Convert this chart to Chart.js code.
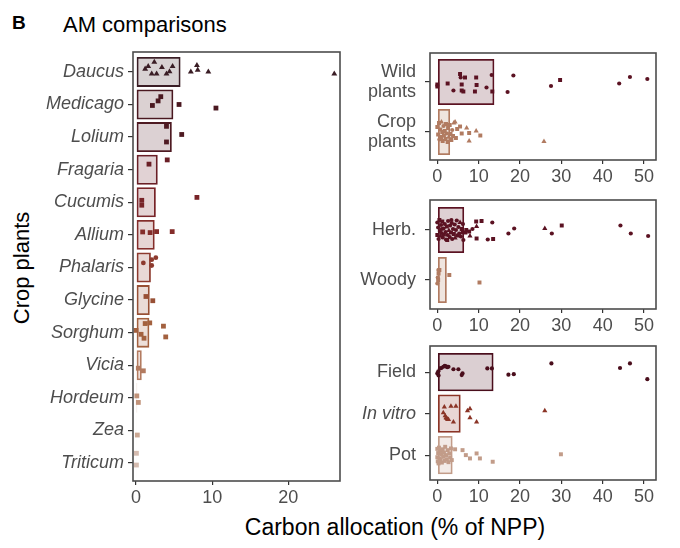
<!DOCTYPE html>
<html lang="en">
<head>
<meta charset="UTF-8">
<title>AM comparisons</title>
<script src="https://cdn.jsdelivr.net/npm/chart.js"></script>
<style>
  body { margin: 0; width: 680px; height: 548px; background: #fff; position: relative; overflow: hidden;
         font-family: "Liberation Sans", Arial, sans-serif; }
  .box { position: absolute; }
  .txt { position: absolute; white-space: nowrap; color: #000; }
</style>
</head>
<body>
<div class="txt" style="left:12px; top:12px; font-weight:bold; font-size:19px;">B</div>
<div class="txt" style="left:63px; top:12px; font-size:22px;">AM comparisons</div>
<div class="txt" style="left:22px; top:268px; font-size:22px; transform:translate(-50%,-50%) rotate(-90deg);">Crop plants</div>
<div class="txt" style="left:395px; top:527px; font-size:23px; transform:translate(-50%,-50%);">Carbon allocation (% of NPP)</div>

<div class="box" style="left:0; top:47px; width:346px; height:462px;"><canvas id="cropChart"></canvas></div>
<div class="box" style="left:345px; top:48px; width:318px; height:140px;"><canvas id="originChart"></canvas></div>
<div class="box" style="left:345px; top:195px; width:318px; height:142px;"><canvas id="habitChart"></canvas></div>
<div class="box" style="left:345px; top:341px; width:318px; height:167px;"><canvas id="methodChart"></canvas></div>

<script>
// ---- crop genera (left panel) ----
const crops = ['Daucus', 'Medicago', 'Lolium', 'Fragaria', 'Cucumis', 'Allium', 'Phalaris',
               'Glycine', 'Sorghum', 'Vicia', 'Hordeum', 'Zea', 'Triticum'];
const cropBox = [5.85, 4.9, 4.7, 2.85, 2.6, 2.45, 1.95, 1.8, 1.75, 0.75, 0.15, 0.1, 0.1];
const cropColors = ['#3a1d25', '#4a1820', '#4e1a22', '#6a1f26', '#782428', '#842d2a', '#8d3a2e',
                    '#985035', '#a3613f', '#b37b60', '#c09279', '#caa793', '#d5bcb0'];
const cropShape = ['t', 's', 's', 's', 's', 's', 'c', 's', 's', 's', 's', 's', 's'];
// [value, vertical jitter (category units)]
const cropPoints = [
  [[1.2, -0.09], [1.6, -0.17], [2.06, 0.06], [2.4, -0.3], [2.7, 0.06], [3.4, -0.14], [4.0, 0.06],
   [4.4, -0.01], [4.8, -0.17], [7.2, 0.0], [8.0, -0.2], [8.1, -0.06], [9.5, 0.0], [26.05, 0.06]],
  [[2.15, 0.03], [2.9, -0.11], [3.25, -0.24], [5.65, 0.0], [10.5, 0.11]],
  [[4.0, -0.33], [4.0, 0.15], [6.0, -0.08]],
  [[1.7, -0.17], [4.1, -0.3]],
  [[0.75, -0.06], [0.75, 0.09], [8.0, -0.15]],
  [[0.87, -0.09], [1.85, -0.07], [2.7, -0.1], [4.75, -0.1]],
  [[0.96, -0.14], [2.06, -0.24], [2.6, -0.3], [2.06, -0.06]],
  [[1.3, -0.11], [2.2, 0.02]],
  [[0.0, -0.07], [1.2, -0.28], [1.8, -0.3], [0.66, 0.05], [1.05, 0.17], [3.6, -0.2], [3.9, 0.13]],
  [[0.3, 0.09], [0.96, 0.17]],
  [[0.1, -0.06], [0.3, 0.14]],
  [[0.17, 0.14]],
  [[0.05, -0.3], [0.05, 0.06]]
];

// ---- wild vs crop ----
const origins = [['Wild', 'plants'], ['Crop', 'plants']];
const originBox = [13.8, 3.1];
const originColors = ['#5b1222', '#b17b61'];
// [value, jitter, shape]
const originPoints = [
  [[0, 0.05, 's'], [0, 0.09, 's'], [2.5, 0.03, 's'], [3.9, 0.17, 'c'], [5.5, -0.16, 's'], [5.65, -0.09, 'c'],
   [5.9, 0.05, 's'], [5.9, 0.17, 's'], [6.3, 0.19, 's'], [6.7, -0.09, 's'], [9.1, 0.19, 's'], [9.4, -0.09, 's'],
   [9.5, 0.06, 's'], [11.9, 0.11, 'c'], [13.15, -0.14, 'c'], [13.3, 0.19, 's'], [17.0, 0.2, 'c'], [18.4, -0.13, 'c'],
   [27.5, 0.08, 'c'], [29.7, -0.04, 's'], [44.0, 0.03, 'c'], [46.6, -0.1, 'c'], [50.8, -0.06, 'c']],
  [[0, -0.1, 's'], [0.2, 0.05, 's'], [0.4, -0.18, 's'], [0.5, 0.15, 'c'], [0.7, -0.05, 's'], [0.9, 0.1, 's'],
   [1.0, -0.2, 't'], [1.2, 0.0, 's'], [1.3, 0.18, 's'], [1.5, -0.12, 'c'], [1.6, 0.07, 's'], [1.8, -0.02, 's'],
   [2.0, 0.14, 's'], [2.1, -0.16, 's'], [2.3, 0.03, 'c'], [2.5, 0.2, 's'], [2.6, -0.08, 's'], [2.8, 0.1, 't'],
   [3.0, -0.14, 's'], [3.2, 0.04, 's'], [3.4, 0.16, 's'], [3.6, -0.04, 'c'], [3.8, 0.08, 's'], [4.0, -0.18, 't'],
   [4.3, -0.2, 't'], [4.5, 0.12, 's'], [4.8, -0.06, 's'], [5.5, -0.11, 's'], [5.9, 0.03, 's'], [7.1, -0.08, 't'],
   [7.7, 0.02, 's'], [7.7, 0.18, 't'], [9.4, -0.02, 't'], [10.4, 0.07, 's'], [25.8, 0.19, 't']]
];

// ---- herbaceous vs woody ----
const habits = ['Herb.', 'Woody'];
const habitBox = [6.5, 2.3];
const habitColors = ['#5b1222', '#b17b61'];
const habitPoints = [
  [[0, -0.15, 'c'], [0, 0.1, 's'], [0.2, -0.05, 'c'], [0.3, 0.18, 'c'], [0.5, -0.2, 's'], [0.6, 0.02, 'c'],
   [0.8, 0.12, 't'], [0.9, -0.1, 'c'], [1.0, 0.06, 'c'], [1.1, -0.02, 'c'], [1.2, -0.17, 's'], [1.3, 0.15, 'c'],
   [1.5, -0.03, 'c'], [1.6, 0.09, 's'], [1.8, -0.12, 'c'], [2.0, 0.04, 'c'], [2.1, 0.19, 'c'], [2.3, -0.07, 's'],
   [2.4, 0.2, 's'], [2.5, 0.1, 'c'], [2.6, -0.18, 'c'], [2.8, 0.01, 't'], [3.0, 0.14, 'c'], [3.1, -0.09, 'c'],
   [3.3, 0.05, 's'], [3.4, -0.2, 'c'], [3.5, -0.14, 'c'], [3.6, 0.18, 'c'], [3.8, -0.02, 'c'], [4.0, 0.08, 's'],
   [4.2, -0.11, 'c'], [4.3, 0.16, 't'], [4.5, 0.0, 'c'], [4.7, -0.19, 'c'], [4.9, 0.11, 's'], [5.1, -0.06, 'c'],
   [5.3, 0.07, 'c'], [5.5, -0.15, 't'], [5.7, 0.13, 'c'], [5.9, -0.02, 's'], [6.1, 0.05, 'c'], [6.2, -0.12, 'c'],
   [6.3, 0.2, 'c'], [6.8, 0.05, 's'], [7.0, 0.0, 's'], [7.7, 0.03, 's'], [7.9, 0.12, 't'], [8.5, -0.02, 'c'],
   [9.4, -0.17, 's'], [9.5, -0.07, 't'], [9.5, 0.17, 's'], [10.7, -0.18, 's'], [12.2, 0.19, 'c'], [13.3, -0.15, 'c'],
   [13.5, 0.18, 's'], [17.2, 0.07, 'c'], [18.6, -0.03, 'c'], [26.0, -0.03, 't'], [27.7, 0.07, 'c'], [30.1, -0.09, 's'],
   [44.3, -0.09, 'c'], [46.8, 0.07, 'c'], [51.0, 0.12, 'c']],
  [[0.25, -0.2, 'c'], [0.3, -0.13, 's'], [0.1, -0.05, 'c'], [0.0, 0.07, 'c'], [0.5, -0.2, 's'], [0.2, 0.0, 's'],
   [2.9, -0.1, 's'], [10.2, 0.05, 's']]
];

// ---- growth method ----
const methods = ['Field', 'In vitro', 'Pot'];
const methodBox = [13.6, 5.65, 3.7];
const methodColors = ['#4a0e1c', '#8b3426', '#c29c89'];
const methodShape = ['c', 't', 's'];
const methodPoints = [
  [[0, 0.03], [0.25, -0.02], [0.3, 0.08], [0.65, -0.09], [1.0, -0.1], [1.45, -0.13], [1.8, -0.15], [2.1, -0.14],
   [2.4, -0.12], [2.7, -0.13], [3.9, -0.07], [5.1, -0.07], [6.1, 0.03], [5.9, 0.07], [12.1, -0.09], [13.2, -0.09],
   [17.2, 0.06], [18.5, 0.05], [27.6, -0.21], [44.2, -0.1], [46.6, -0.21], [50.8, 0.17]],
  [[1.7, -0.16], [3.3, -0.18], [4.5, -0.18], [1.45, -0.02], [1.9, 0.05], [2.1, 0.1], [2.3, 0.12], [2.5, 0.14],
   [2.7, 0.14], [3.9, 0.2], [7.3, -0.07], [7.9, -0.12], [7.9, 0.1], [9.5, 0.2], [26.0, -0.07]],
  [[0, -0.15], [0, 0.05], [0.1, 0.15], [0.2, -0.05], [0.3, 0.2], [0.4, -0.18], [0.5, 0.08], [0.7, -0.1],
   [0.8, 0.12], [1.0, -0.02], [1.1, 0.18], [1.3, -0.14], [1.4, 0.04], [1.6, -0.06], [1.8, 0.14], [1.9, -0.2],
   [2.1, 0.0], [2.3, 0.1], [2.5, -0.12], [2.7, 0.17], [2.9, -0.04], [3.1, 0.06], [3.3, -0.16], [3.5, 0.12],
   [4.3, -0.14], [6.1, -0.12], [6.9, 0.0], [7.9, 0.08], [9.5, -0.04], [10.3, 0.08], [13.4, 0.16], [29.9, -0.02]]
];

const FONT = '"Liberation Sans", Arial, sans-serif';
const STYLE = { c: 'circle', s: 'rect', t: 'triangle' };

// full box around each panel, like the ggplot panel border
const panelBorder = {
  id: 'panelBorder',
  afterDatasetsDraw(chart) {
    const a = chart.chartArea, ctx = chart.ctx;
    ctx.save();
    ctx.strokeStyle = '#4d4d4d';
    ctx.lineWidth = 1.6;
    ctx.strokeRect(a.left, a.top, a.right - a.left, a.bottom - a.top);
    ctx.restore();
  }
};

// stop the axes from reserving room for labels at the ends
function noEdgePadding(s) {
  s.paddingTop = 0; s.paddingBottom = 0; s.paddingLeft = 0; s.paddingRight = 0;
}

function makePanel(id, labels, boxes, colors, points, o) {
  const datasets = [];
  points.forEach((pts, i) => {
    datasets.push({
      type: 'scatter',
      indexAxis: 'x',
      order: 1,
      data: pts.map(p => ({ x: p[0], y: i + p[1], s: p[2] || o.shape[i] })),
      backgroundColor: colors[i],
      borderColor: colors[i],
      borderWidth: 0,
      pointStyle: c => STYLE[c.raw.s],
      pointRadius: c => o.size[c.raw.s]
    });
  });
  datasets.push({
    type: 'bar',
    order: 2,
    data: boxes.map((v, i) => ({ x: v, y: i })),
    backgroundColor: colors.map(c => c + '33'),
    borderColor: colors,
    borderWidth: 1.8,
    borderSkipped: false,
    grouped: false,
    barPercentage: 0.92,
    categoryPercentage: 1
  });

  new Chart(document.getElementById(id), {
    type: 'bar',
    data: { datasets },
    options: {
      indexAxis: 'y',
      responsive: true,
      maintainAspectRatio: false,
      animation: false,
      layout: { padding: o.pad },
      plugins: { legend: { display: false }, tooltip: { enabled: false } },
      scales: {
        x: {
          type: 'linear', min: o.xmin, max: o.xmax, offset: false,
          afterBuildTicks: s => { s.ticks = o.xticks.map(v => ({ value: v })); },
          afterFit: s => { s.height = 28; noEdgePadding(s); },
          grid: { offset: false, drawOnChartArea: false, drawTicks: true, tickLength: 4, color: '#333', lineWidth: 1.2 },
          border: { display: false },
          ticks: { color: '#4d4d4d', font: { family: FONT, size: 18 }, padding: 2, maxRotation: 0 }
        },
        y: {
          type: 'linear', reverse: true, min: o.ymin, max: o.ymax, offset: false,
          afterBuildTicks: s => { s.ticks = labels.map((l, i) => ({ value: i })); },
          afterFit: s => { s.width = o.yw; noEdgePadding(s); },
          grid: { offset: false, drawOnChartArea: false, drawTicks: true, tickLength: 5, color: '#333', lineWidth: 1.2 },
          border: { display: false },
          ticks: {
            color: '#4d4d4d',
            padding: o.labelGap,
            callback: v => labels[Math.round(v)],
            font: c => ({ family: FONT, size: 18, lineHeight: 1.1, style: o.italic(c.index) ? 'italic' : 'normal' })
          }
        }
      }
    },
    plugins: [panelBorder]
  });
}

const leftSize = { c: 2.4, s: 3.4, t: 3.4 };
const rightSize = { c: 2.1, s: 2.8, t: 3.0 };

makePanel('cropChart', crops, cropBox, cropColors, cropPoints, {
  shape: cropShape, size: leftSize, italic: () => true, labelGap: 4,
  pad: { top: 5, right: 6, left: 0, bottom: 0 }, yw: 133,
  xmin: -0.4, xmax: 26.8, xticks: [0, 10, 20], ymin: -0.61, ymax: 12.55
});
makePanel('originChart', origins, originBox, originColors, originPoints, {
  shape: [], size: rightSize, italic: () => false, labelGap: 9,
  pad: { top: 5, right: 7, left: 0, bottom: 0 }, yw: 85,
  xmin: -1.77, xmax: 52.9, xticks: [0, 10, 20, 30, 40, 50], ymin: -0.58, ymax: 1.56
});
makePanel('habitChart', habits, habitBox, habitColors, habitPoints, {
  shape: [], size: rightSize, italic: () => false, labelGap: 9,
  pad: { top: 5, right: 7, left: 0, bottom: 0 }, yw: 85,
  xmin: -1.77, xmax: 52.9, xticks: [0, 10, 20, 30, 40, 50], ymin: -0.6, ymax: 1.58
});
makePanel('methodChart', methods, methodBox, methodColors, methodPoints, {
  shape: methodShape, size: rightSize, italic: i => methods[i] === 'In vitro', labelGap: 9,
  pad: { top: 5, right: 7, left: 0, bottom: 0 }, yw: 85,
  xmin: -1.77, xmax: 52.9, xticks: [0, 10, 20, 30, 40, 50], ymin: -0.63, ymax: 2.6
});
</script>
</body>
</html>
